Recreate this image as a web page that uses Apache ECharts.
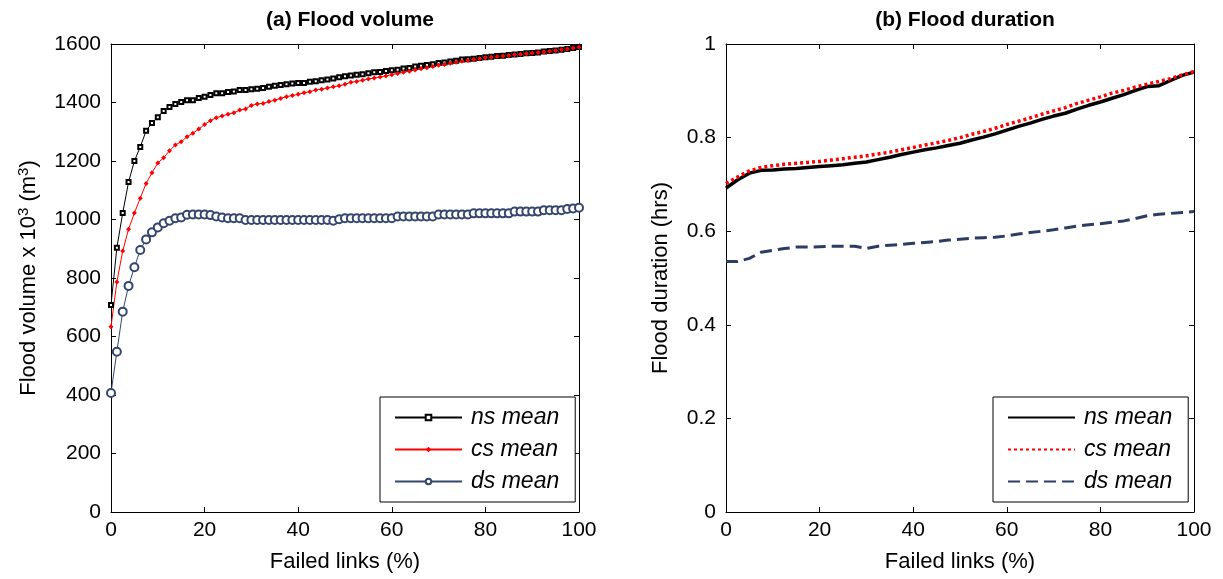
<!DOCTYPE html>
<html>
<head>
<meta charset="utf-8">
<script src="https://cdn.jsdelivr.net/npm/echarts@6/dist/echarts.min.js"></script>
<style>html,body{margin:0;padding:0;background:#fff}#c{width:1223px;height:579px}</style>
</head>
<body>
<div id="c"></div>
<script>
// Panel (a): failed links (%) and flood volume x 10^3 m^3
const failedA = [0,1.25,2.5,3.75,5,6.25,7.5,8.75,10,11.25,12.5,13.75,15,16.25,17.5,18.75,20,21.25,22.5,23.75,25,26.25,27.5,28.75,30,31.25,32.5,33.75,35,36.25,37.5,38.75,40,41.25,42.5,43.75,45,46.25,47.5,48.75,50,51.25,52.5,53.75,55,56.25,57.5,58.75,60,61.25,62.5,63.75,65,66.25,67.5,68.75,70,71.25,72.5,73.75,75,76.25,77.5,78.75,80,81.25,82.5,83.75,85,86.25,87.5,88.75,90,91.25,92.5,93.75,95,96.25,97.5,98.75,100];
const volNs = [708,903,1022,1128,1200,1248,1303,1330,1350,1371,1385,1395,1402,1408,1408,1415,1420,1426,1432,1432,1436,1438,1443,1443,1445,1447,1450,1454,1457,1460,1462,1465,1467,1467,1471,1473,1476,1479,1482,1486,1490,1492,1495,1497,1500,1503,1504,1508,1510,1512,1516,1518,1523,1526,1528,1531,1535,1537,1540,1543,1547,1548,1550,1552,1555,1556,1559,1560,1562,1564,1566,1568,1569,1571,1574,1576,1578,1580,1583,1586,1590];
const volCs = [633,786,892,967,1022,1073,1123,1160,1193,1211,1235,1255,1266,1283,1295,1309,1325,1338,1348,1354,1360,1365,1374,1378,1390,1395,1397,1403,1408,1414,1420,1424,1428,1433,1437,1443,1445,1450,1454,1457,1462,1469,1472,1476,1480,1484,1487,1491,1495,1499,1503,1507,1511,1515,1519,1523,1527,1530,1534,1538,1541,1544,1547,1550,1553,1555,1557,1559,1561,1563,1565,1567,1569,1571,1573,1575,1577,1580,1583,1586,1589];
const volDs = [407,548,685,773,837,896,932,956,973,987,996,1004,1007,1016,1017,1017,1017,1015,1010,1007,1004,1004,1004,998,998,998,998,998,998,998,998,998,998,998,998,998,998,998,996,1001,1004,1004,1004,1004,1004,1004,1004,1004,1004,1010,1010,1010,1010,1010,1010,1010,1017,1017,1017,1017,1017,1017,1021,1021,1021,1021,1021,1021,1021,1027,1027,1027,1027,1027,1032,1032,1032,1032,1036,1038,1040];

// Panel (b): failed links (%) and flood duration (hrs)
const failedB = [0,2.5,5,7.5,10,12.5,15,17.5,20,22.5,25,27.5,30,32.5,35,37.5,40,42.5,45,47.5,50,52.5,55,57.5,60,62.5,65,67.5,70,72.5,75,77.5,80,82.5,85,87.5,90,92.5,95,97.5,100];
const durNs = [0.692,0.710,0.724,0.730,0.731,0.733,0.734,0.736,0.738,0.740,0.742,0.745,0.748,0.753,0.758,0.764,0.769,0.774,0.778,0.783,0.788,0.795,0.801,0.808,0.816,0.824,0.831,0.839,0.846,0.852,0.861,0.869,0.876,0.884,0.892,0.901,0.909,0.911,0.922,0.933,0.940];
const durCs = [0.702,0.716,0.729,0.736,0.740,0.743,0.745,0.747,0.749,0.752,0.755,0.758,0.761,0.765,0.769,0.774,0.779,0.784,0.789,0.794,0.800,0.807,0.813,0.820,0.828,0.835,0.842,0.850,0.857,0.864,0.873,0.880,0.887,0.895,0.901,0.908,0.914,0.920,0.926,0.934,0.941];
const durDs = [0.535,0.535,0.542,0.555,0.559,0.563,0.566,0.566,0.567,0.568,0.568,0.568,0.563,0.568,0.570,0.572,0.574,0.576,0.578,0.581,0.583,0.585,0.586,0.587,0.590,0.594,0.597,0.600,0.603,0.607,0.611,0.614,0.616,0.619,0.622,0.627,0.633,0.636,0.638,0.640,0.642];

const seriesNames = ['ns mean','cs mean','ds mean'];
const titles = ['(a) Flood volume','(b) Flood duration'];
const xTitle = 'Failed links (%)';

const zip = (xs, ys) => xs.map((x, i) => [x, ys[i]]);
const FONT = '"Liberation Sans", Arial, sans-serif';
const FS = 21;      // tick labels
const FSN = 22;     // axis names
const FST = 21;     // titles
const FSL = 23;     // legend
const navy = '#34466e';

function axisBase(extra) {
  return Object.assign({
    type: 'value',
    axisLine: { show: true, onZero: false, lineStyle: { color: '#000', width: 1 } },
    axisTick: { show: true, inside: true, length: 5, lineStyle: { color: '#000' } },
    axisLabel: { color: '#000', fontSize: FS, fontFamily: FONT },
    splitLine: { show: false }
  }, extra);
}
const hidden = { axisLabel: { show: false } };
const plain = v => String(v);

const grids = [
  { left: 111, top: 44, width: 468, height: 468 },
  { left: 726, top: 44, width: 468, height: 468 }
];

const xAxes = [], yAxes = [];
[0, 1].forEach(g => {
  xAxes.push(axisBase({ gridIndex: g, position: 'bottom', min: 0, max: 100, interval: 20,
    axisLabel: { color: '#000', fontSize: FS, fontFamily: FONT, margin: 8, formatter: plain },
    name: xTitle, nameLocation: 'middle', nameGap: 39,
    nameTextStyle: { color: '#000', fontSize: FSN, fontFamily: FONT } }));
  xAxes.push(axisBase(Object.assign({ gridIndex: g, position: 'top', min: 0, max: 100, interval: 20 }, hidden)));
});
yAxes.push(axisBase({ gridIndex: 0, position: 'left', min: 0, max: 1600, interval: 200,
  axisLabel: { color: '#000', fontSize: FS, fontFamily: FONT, margin: 10, formatter: plain },
  name: 'Flood volume x 10{sup|3} (m{sup|3})', nameLocation: 'middle', nameGap: 69, nameRotate: 90,
  nameTextStyle: { color: '#000', fontSize: FSN, fontFamily: FONT, lineHeight: 26,
    rich: { sup: { fontSize: 15, fontFamily: FONT, color: '#000', verticalAlign: 'top', lineHeight: 18 } } } }));
yAxes.push(axisBase(Object.assign({ gridIndex: 0, position: 'right', min: 0, max: 1600, interval: 200 }, hidden)));
yAxes.push(axisBase({ gridIndex: 1, position: 'left', min: 0, max: 1, interval: 0.2,
  axisLabel: { color: '#000', fontSize: FS, fontFamily: FONT, margin: 10, formatter: plain },
  name: 'Flood duration (hrs)', nameLocation: 'middle', nameGap: 54, nameRotate: 90,
  nameTextStyle: { color: '#000', fontSize: FSN, fontFamily: FONT } }));
yAxes.push(axisBase(Object.assign({ gridIndex: 1, position: 'right', min: 0, max: 1, interval: 0.2 }, hidden)));

const series = [
  { name: seriesNames[0], type: 'line', xAxisIndex: 0, yAxisIndex: 0, data: zip(failedA, volNs),
    symbol: 'emptyRect', symbolSize: 4, showAllSymbol: true,
    lineStyle: { color: '#000', width: 1 }, itemStyle: { color: '#000', borderWidth: 1 } },
  { name: seriesNames[1], type: 'line', xAxisIndex: 0, yAxisIndex: 0, data: zip(failedA, volCs),
    symbol: 'diamond', symbolSize: 5, showAllSymbol: true,
    lineStyle: { color: '#ff0000', width: 1 }, itemStyle: { color: '#ff0000' } },
  { name: seriesNames[2], type: 'line', xAxisIndex: 0, yAxisIndex: 0, data: zip(failedA, volDs),
    symbol: 'emptyCircle', symbolSize: 8, showAllSymbol: true,
    lineStyle: { color: navy, width: 1 }, itemStyle: { color: navy, borderWidth: 1 } },
  { name: seriesNames[0] + ' (b)', type: 'line', xAxisIndex: 2, yAxisIndex: 2, data: zip(failedB, durNs),
    symbol: 'none', lineStyle: { color: '#000', width: 3.5 }, itemStyle: { color: '#000', opacity: 0 } },
  { name: seriesNames[1] + ' (b)', type: 'line', xAxisIndex: 2, yAxisIndex: 2, data: zip(failedB, durCs),
    symbol: 'none', lineStyle: { color: '#ff0000', width: 3.5, type: [3, 3] }, itemStyle: { color: '#ff0000', opacity: 0 } },
  { name: seriesNames[2] + ' (b)', type: 'line', xAxisIndex: 2, yAxisIndex: 2, data: zip(failedB, durDs),
    symbol: 'none', lineStyle: { color: '#2c3c62', width: 3, type: [12, 6] }, itemStyle: { color: '#2c3c62', opacity: 0 } }
];

const legendBase = {
  orient: 'vertical', itemWidth: 67, itemHeight: 7, itemGap: 9,
  padding: [9, 16, 9, 14], borderColor: '#000', borderWidth: 1, backgroundColor: '#fff',
  textStyle: { color: '#000', fontSize: FSL, fontStyle: 'italic', fontFamily: FONT, padding: [0, 0, 0, 4] },
  selectedMode: false,
  formatter: n => n.replace(' (b)', '')
};

const option = {
  animation: false,
  backgroundColor: '#fff',
  title: [
    { text: titles[0], left: 345, top: 5, textAlign: 'center',
      textStyle: { fontSize: FST, fontWeight: 'bold', fontFamily: FONT, color: '#000' } },
    { text: titles[1], left: 960, top: 5, textAlign: 'center',
      textStyle: { fontSize: FST, fontWeight: 'bold', fontFamily: FONT, color: '#000' } }
  ],
  grid: grids,
  xAxis: xAxes,
  yAxis: yAxes,
  legend: [
    Object.assign({}, legendBase, { left: 380, top: 397, data: seriesNames }),
    Object.assign({}, legendBase, { left: 993, top: 397, data: seriesNames.map(n => n + ' (b)'),
      itemStyle: { opacity: 0 } })
  ],
  series: series
};

const chart = echarts.init(document.getElementById('c'), null, { renderer: 'canvas' });
chart.setOption(option);
</script>
</body>
</html>
